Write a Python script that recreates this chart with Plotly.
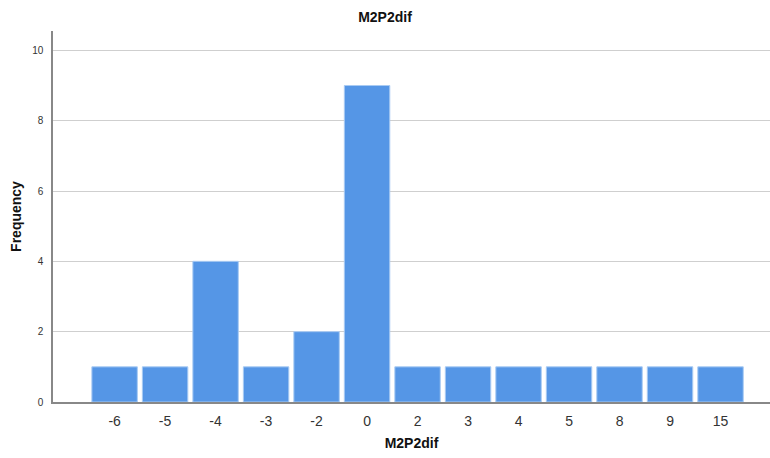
import plotly.graph_objects as go

categories = ["-6", "-5", "-4", "-3", "-2", "0", "2", "3", "4", "5", "8", "9", "15"]
frequency = [1, 1, 4, 1, 2, 9, 1, 1, 1, 1, 1, 1, 1]
y_ticks = [0, 2, 4, 6, 8, 10]

fig = go.Figure(go.Bar(
    x=categories, y=frequency,
    marker=dict(color="#5596E6", line=dict(color="#A9CBF3", width=1)),
))

fig.update_layout(
    width=770, height=458,
    margin=dict(l=53, r=0, t=31, b=56, autoexpand=False),
    paper_bgcolor="white", plot_bgcolor="white",
    bargap=0.1,
    showlegend=False,
    font=dict(family="Liberation Sans, Arial, sans-serif", color="#222"),
    title=dict(text="<b>M2P2dif</b>", x=0.5, xanchor="center", y=0.962, yanchor="middle",
               font=dict(size=14, color="#111")),
)
fig.update_xaxes(
    type="category", range=[-1.22, 12.98], automargin=False,
    showline=True, linecolor="#888", linewidth=1.5,
    ticks="", tickfont=dict(size=14, color="#333"), ticklabelstandoff=5,
    showgrid=False,
    title=dict(text="<b>M2P2dif</b>", font=dict(size=14, color="#111"), standoff=11),
)
fig.update_yaxes(
    range=[0, 10.55], tickvals=y_ticks, automargin=False,
    showline=True, linecolor="#888", linewidth=1.5,
    showgrid=True, gridcolor="#CFCFCF", gridwidth=1,
    ticks="", tickfont=dict(size=10, color="#333"), ticklabelstandoff=6,
    zeroline=False,
    title=dict(text="<b>Frequency</b>", font=dict(size=14, color="#111"), standoff=7),
)

fig.write_html("out.html", config={"displayModeBar": False},
               post_script="document.body.style.margin='0';document.body.style.overflow='hidden';")
